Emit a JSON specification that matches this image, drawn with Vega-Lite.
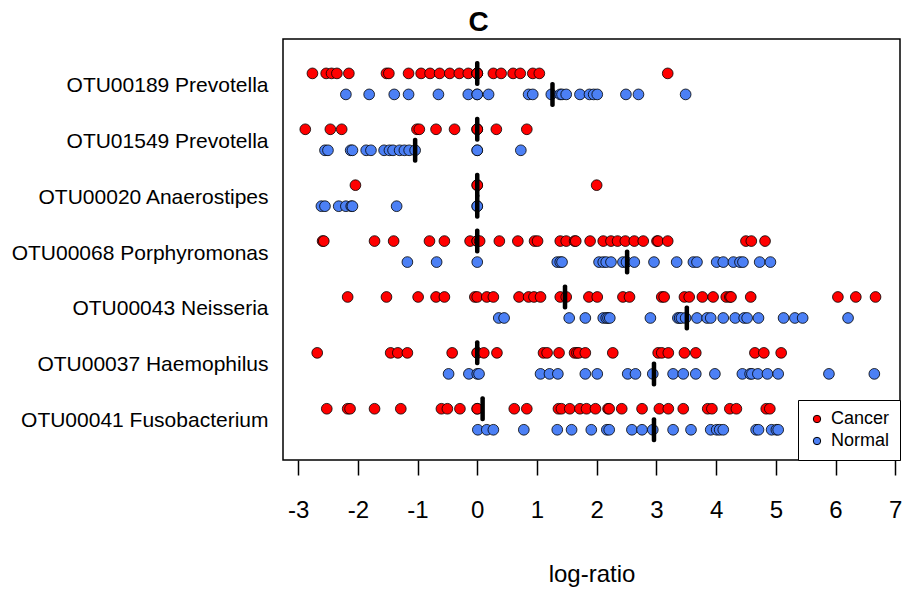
{
"$schema":"https://vega.github.io/schema/vega-lite/v6.json",
"width":617,"height":421,
"autosize":{"type":"none"},
"padding":{"left":283,"top":39,"right":6,"bottom":131},
"background":"white",
"config":{"view":{"stroke":"black","strokeWidth":1.5},"font":"Liberation Sans"},
"title":{"text":"C","fontSize":28,"fontWeight":"bold","font":"Liberation Sans","anchor":"middle","dx":-113,"offset":2,"color":"black"},
"datasets":{
"med":[
{"otu":"OTU00189 Prevotella","group":"Cancer","value":0},{"otu":"OTU00189 Prevotella","group":"Normal","value":1.26},
{"otu":"OTU01549 Prevotella","group":"Cancer","value":0},{"otu":"OTU01549 Prevotella","group":"Normal","value":-1.04},
{"otu":"OTU00020 Anaerostipes","group":"Cancer","value":0},{"otu":"OTU00020 Anaerostipes","group":"Normal","value":0},
{"otu":"OTU00068 Porphyromonas","group":"Cancer","value":0},{"otu":"OTU00068 Porphyromonas","group":"Normal","value":2.51},
{"otu":"OTU00043 Neisseria","group":"Cancer","value":1.47},{"otu":"OTU00043 Neisseria","group":"Normal","value":3.51},
{"otu":"OTU00037 Haemophilus","group":"Cancer","value":0},{"otu":"OTU00037 Haemophilus","group":"Normal","value":2.96},
{"otu":"OTU00041 Fusobacterium","group":"Cancer","value":0.09},{"otu":"OTU00041 Fusobacterium","group":"Normal","value":2.96}
],
"pts":[
{"otu":"OTU00189 Prevotella","group":"Cancer","value":-2.76},{"otu":"OTU00189 Prevotella","group":"Cancer","value":-2.53},{"otu":"OTU00189 Prevotella","group":"Cancer","value":-2.44},{"otu":"OTU00189 Prevotella","group":"Cancer","value":-2.35},{"otu":"OTU00189 Prevotella","group":"Cancer","value":-2.15},{"otu":"OTU00189 Prevotella","group":"Cancer","value":-1.52},{"otu":"OTU00189 Prevotella","group":"Cancer","value":-1.48},{"otu":"OTU00189 Prevotella","group":"Cancer","value":-1.15},{"otu":"OTU00189 Prevotella","group":"Cancer","value":-0.94},{"otu":"OTU00189 Prevotella","group":"Cancer","value":-0.79},{"otu":"OTU00189 Prevotella","group":"Cancer","value":-0.63},{"otu":"OTU00189 Prevotella","group":"Cancer","value":-0.46},{"otu":"OTU00189 Prevotella","group":"Cancer","value":-0.3},{"otu":"OTU00189 Prevotella","group":"Cancer","value":-0.15},{"otu":"OTU00189 Prevotella","group":"Cancer","value":0},{"otu":"OTU00189 Prevotella","group":"Cancer","value":0},{"otu":"OTU00189 Prevotella","group":"Cancer","value":0},{"otu":"OTU00189 Prevotella","group":"Cancer","value":0},{"otu":"OTU00189 Prevotella","group":"Cancer","value":0},{"otu":"OTU00189 Prevotella","group":"Cancer","value":0.27},{"otu":"OTU00189 Prevotella","group":"Cancer","value":0.4},{"otu":"OTU00189 Prevotella","group":"Cancer","value":0.6},{"otu":"OTU00189 Prevotella","group":"Cancer","value":0.72},{"otu":"OTU00189 Prevotella","group":"Cancer","value":0.93},{"otu":"OTU00189 Prevotella","group":"Cancer","value":1.04},{"otu":"OTU00189 Prevotella","group":"Cancer","value":3.19},
{"otu":"OTU00189 Prevotella","group":"Normal","value":-2.2},{"otu":"OTU00189 Prevotella","group":"Normal","value":-1.81},{"otu":"OTU00189 Prevotella","group":"Normal","value":-1.39},{"otu":"OTU00189 Prevotella","group":"Normal","value":-1.15},{"otu":"OTU00189 Prevotella","group":"Normal","value":-0.65},{"otu":"OTU00189 Prevotella","group":"Normal","value":-0.15},{"otu":"OTU00189 Prevotella","group":"Normal","value":0},{"otu":"OTU00189 Prevotella","group":"Normal","value":0},{"otu":"OTU00189 Prevotella","group":"Normal","value":0.19},{"otu":"OTU00189 Prevotella","group":"Normal","value":0.86},{"otu":"OTU00189 Prevotella","group":"Normal","value":0.93},{"otu":"OTU00189 Prevotella","group":"Normal","value":1.24},{"otu":"OTU00189 Prevotella","group":"Normal","value":1.39},{"otu":"OTU00189 Prevotella","group":"Normal","value":1.42},{"otu":"OTU00189 Prevotella","group":"Normal","value":1.49},{"otu":"OTU00189 Prevotella","group":"Normal","value":1.72},{"otu":"OTU00189 Prevotella","group":"Normal","value":1.88},{"otu":"OTU00189 Prevotella","group":"Normal","value":1.95},{"otu":"OTU00189 Prevotella","group":"Normal","value":2.01},{"otu":"OTU00189 Prevotella","group":"Normal","value":2.49},{"otu":"OTU00189 Prevotella","group":"Normal","value":2.7},{"otu":"OTU00189 Prevotella","group":"Normal","value":3.49},
{"otu":"OTU01549 Prevotella","group":"Cancer","value":-2.88},{"otu":"OTU01549 Prevotella","group":"Cancer","value":-2.46},{"otu":"OTU01549 Prevotella","group":"Cancer","value":-2.27},{"otu":"OTU01549 Prevotella","group":"Cancer","value":-1.01},{"otu":"OTU01549 Prevotella","group":"Cancer","value":-0.97},{"otu":"OTU01549 Prevotella","group":"Cancer","value":-0.69},{"otu":"OTU01549 Prevotella","group":"Cancer","value":-0.38},{"otu":"OTU01549 Prevotella","group":"Cancer","value":0},{"otu":"OTU01549 Prevotella","group":"Cancer","value":0},{"otu":"OTU01549 Prevotella","group":"Cancer","value":0},{"otu":"OTU01549 Prevotella","group":"Cancer","value":0.32},{"otu":"OTU01549 Prevotella","group":"Cancer","value":0.83},
{"otu":"OTU01549 Prevotella","group":"Normal","value":-2.55},{"otu":"OTU01549 Prevotella","group":"Normal","value":-2.5},{"otu":"OTU01549 Prevotella","group":"Normal","value":-2.12},{"otu":"OTU01549 Prevotella","group":"Normal","value":-2.09},{"otu":"OTU01549 Prevotella","group":"Normal","value":-1.86},{"otu":"OTU01549 Prevotella","group":"Normal","value":-1.78},{"otu":"OTU01549 Prevotella","group":"Normal","value":-1.56},{"otu":"OTU01549 Prevotella","group":"Normal","value":-1.47},{"otu":"OTU01549 Prevotella","group":"Normal","value":-1.41},{"otu":"OTU01549 Prevotella","group":"Normal","value":-1.3},{"otu":"OTU01549 Prevotella","group":"Normal","value":-1.22},{"otu":"OTU01549 Prevotella","group":"Normal","value":-1.14},{"otu":"OTU01549 Prevotella","group":"Normal","value":-1.04},{"otu":"OTU01549 Prevotella","group":"Normal","value":0},{"otu":"OTU01549 Prevotella","group":"Normal","value":0},{"otu":"OTU01549 Prevotella","group":"Normal","value":0.73},
{"otu":"OTU00020 Anaerostipes","group":"Cancer","value":-2.04},{"otu":"OTU00020 Anaerostipes","group":"Cancer","value":0},{"otu":"OTU00020 Anaerostipes","group":"Cancer","value":0},{"otu":"OTU00020 Anaerostipes","group":"Cancer","value":2.0},
{"otu":"OTU00020 Anaerostipes","group":"Normal","value":-2.61},{"otu":"OTU00020 Anaerostipes","group":"Normal","value":-2.55},{"otu":"OTU00020 Anaerostipes","group":"Normal","value":-2.32},{"otu":"OTU00020 Anaerostipes","group":"Normal","value":-2.2},{"otu":"OTU00020 Anaerostipes","group":"Normal","value":-2.11},{"otu":"OTU00020 Anaerostipes","group":"Normal","value":-2.09},{"otu":"OTU00020 Anaerostipes","group":"Normal","value":-1.35},{"otu":"OTU00020 Anaerostipes","group":"Normal","value":0},{"otu":"OTU00020 Anaerostipes","group":"Normal","value":0},
{"otu":"OTU00068 Porphyromonas","group":"Cancer","value":-2.59},{"otu":"OTU00068 Porphyromonas","group":"Cancer","value":-2.57},{"otu":"OTU00068 Porphyromonas","group":"Cancer","value":-1.72},{"otu":"OTU00068 Porphyromonas","group":"Cancer","value":-1.4},{"otu":"OTU00068 Porphyromonas","group":"Cancer","value":-0.8},{"otu":"OTU00068 Porphyromonas","group":"Cancer","value":-0.55},{"otu":"OTU00068 Porphyromonas","group":"Cancer","value":-0.12},{"otu":"OTU00068 Porphyromonas","group":"Cancer","value":0},{"otu":"OTU00068 Porphyromonas","group":"Cancer","value":0},{"otu":"OTU00068 Porphyromonas","group":"Cancer","value":0.04},{"otu":"OTU00068 Porphyromonas","group":"Cancer","value":0.37},{"otu":"OTU00068 Porphyromonas","group":"Cancer","value":0.68},{"otu":"OTU00068 Porphyromonas","group":"Cancer","value":0.96},{"otu":"OTU00068 Porphyromonas","group":"Cancer","value":1.01},{"otu":"OTU00068 Porphyromonas","group":"Cancer","value":1.39},{"otu":"OTU00068 Porphyromonas","group":"Cancer","value":1.49},{"otu":"OTU00068 Porphyromonas","group":"Cancer","value":1.63},{"otu":"OTU00068 Porphyromonas","group":"Cancer","value":1.65},{"otu":"OTU00068 Porphyromonas","group":"Cancer","value":1.89},{"otu":"OTU00068 Porphyromonas","group":"Cancer","value":2.11},{"otu":"OTU00068 Porphyromonas","group":"Cancer","value":2.24},{"otu":"OTU00068 Porphyromonas","group":"Cancer","value":2.35},{"otu":"OTU00068 Porphyromonas","group":"Cancer","value":2.48},{"otu":"OTU00068 Porphyromonas","group":"Cancer","value":2.63},{"otu":"OTU00068 Porphyromonas","group":"Cancer","value":2.78},{"otu":"OTU00068 Porphyromonas","group":"Cancer","value":3.01},{"otu":"OTU00068 Porphyromonas","group":"Cancer","value":3.03},{"otu":"OTU00068 Porphyromonas","group":"Cancer","value":3.19},{"otu":"OTU00068 Porphyromonas","group":"Cancer","value":4.5},{"otu":"OTU00068 Porphyromonas","group":"Cancer","value":4.59},{"otu":"OTU00068 Porphyromonas","group":"Cancer","value":4.82},
{"otu":"OTU00068 Porphyromonas","group":"Normal","value":-1.17},{"otu":"OTU00068 Porphyromonas","group":"Normal","value":-0.68},{"otu":"OTU00068 Porphyromonas","group":"Normal","value":0},{"otu":"OTU00068 Porphyromonas","group":"Normal","value":1.34},{"otu":"OTU00068 Porphyromonas","group":"Normal","value":1.39},{"otu":"OTU00068 Porphyromonas","group":"Normal","value":1.42},{"otu":"OTU00068 Porphyromonas","group":"Normal","value":2.04},{"otu":"OTU00068 Porphyromonas","group":"Normal","value":2.11},{"otu":"OTU00068 Porphyromonas","group":"Normal","value":2.16},{"otu":"OTU00068 Porphyromonas","group":"Normal","value":2.24},{"otu":"OTU00068 Porphyromonas","group":"Normal","value":2.44},{"otu":"OTU00068 Porphyromonas","group":"Normal","value":2.5},{"otu":"OTU00068 Porphyromonas","group":"Normal","value":2.63},{"otu":"OTU00068 Porphyromonas","group":"Normal","value":2.96},{"otu":"OTU00068 Porphyromonas","group":"Normal","value":3.34},{"otu":"OTU00068 Porphyromonas","group":"Normal","value":3.62},{"otu":"OTU00068 Porphyromonas","group":"Normal","value":3.68},{"otu":"OTU00068 Porphyromonas","group":"Normal","value":4.01},{"otu":"OTU00068 Porphyromonas","group":"Normal","value":4.12},{"otu":"OTU00068 Porphyromonas","group":"Normal","value":4.29},{"otu":"OTU00068 Porphyromonas","group":"Normal","value":4.4},{"otu":"OTU00068 Porphyromonas","group":"Normal","value":4.45},{"otu":"OTU00068 Porphyromonas","group":"Normal","value":4.73},{"otu":"OTU00068 Porphyromonas","group":"Normal","value":4.91},
{"otu":"OTU00043 Neisseria","group":"Cancer","value":-2.17},{"otu":"OTU00043 Neisseria","group":"Cancer","value":-1.52},{"otu":"OTU00043 Neisseria","group":"Cancer","value":-0.99},{"otu":"OTU00043 Neisseria","group":"Cancer","value":-0.69},{"otu":"OTU00043 Neisseria","group":"Cancer","value":-0.55},{"otu":"OTU00043 Neisseria","group":"Cancer","value":-0.04},{"otu":"OTU00043 Neisseria","group":"Cancer","value":0},{"otu":"OTU00043 Neisseria","group":"Cancer","value":0.16},{"otu":"OTU00043 Neisseria","group":"Cancer","value":0.27},{"otu":"OTU00043 Neisseria","group":"Cancer","value":0.7},{"otu":"OTU00043 Neisseria","group":"Cancer","value":0.86},{"otu":"OTU00043 Neisseria","group":"Cancer","value":0.95},{"otu":"OTU00043 Neisseria","group":"Cancer","value":1.06},{"otu":"OTU00043 Neisseria","group":"Cancer","value":1.39},{"otu":"OTU00043 Neisseria","group":"Cancer","value":1.49},{"otu":"OTU00043 Neisseria","group":"Cancer","value":1.87},{"otu":"OTU00043 Neisseria","group":"Cancer","value":2.01},{"otu":"OTU00043 Neisseria","group":"Cancer","value":2.44},{"otu":"OTU00043 Neisseria","group":"Cancer","value":2.55},{"otu":"OTU00043 Neisseria","group":"Cancer","value":3.09},{"otu":"OTU00043 Neisseria","group":"Cancer","value":3.13},{"otu":"OTU00043 Neisseria","group":"Cancer","value":3.47},{"otu":"OTU00043 Neisseria","group":"Cancer","value":3.55},{"otu":"OTU00043 Neisseria","group":"Cancer","value":3.77},{"otu":"OTU00043 Neisseria","group":"Cancer","value":3.95},{"otu":"OTU00043 Neisseria","group":"Cancer","value":4.17},{"otu":"OTU00043 Neisseria","group":"Cancer","value":4.23},{"otu":"OTU00043 Neisseria","group":"Cancer","value":4.25},{"otu":"OTU00043 Neisseria","group":"Cancer","value":4.58},{"otu":"OTU00043 Neisseria","group":"Cancer","value":6.04},{"otu":"OTU00043 Neisseria","group":"Cancer","value":6.34},{"otu":"OTU00043 Neisseria","group":"Cancer","value":6.67},
{"otu":"OTU00043 Neisseria","group":"Normal","value":0.36},{"otu":"OTU00043 Neisseria","group":"Normal","value":0.45},{"otu":"OTU00043 Neisseria","group":"Normal","value":1.54},{"otu":"OTU00043 Neisseria","group":"Normal","value":1.81},{"otu":"OTU00043 Neisseria","group":"Normal","value":2.11},{"otu":"OTU00043 Neisseria","group":"Normal","value":2.16},{"otu":"OTU00043 Neisseria","group":"Normal","value":2.19},{"otu":"OTU00043 Neisseria","group":"Normal","value":2.22},{"otu":"OTU00043 Neisseria","group":"Normal","value":2.9},{"otu":"OTU00043 Neisseria","group":"Normal","value":3.36},{"otu":"OTU00043 Neisseria","group":"Normal","value":3.39},{"otu":"OTU00043 Neisseria","group":"Normal","value":3.42},{"otu":"OTU00043 Neisseria","group":"Normal","value":3.49},{"otu":"OTU00043 Neisseria","group":"Normal","value":3.68},{"otu":"OTU00043 Neisseria","group":"Normal","value":3.85},{"otu":"OTU00043 Neisseria","group":"Normal","value":3.91},{"otu":"OTU00043 Neisseria","group":"Normal","value":4.12},{"otu":"OTU00043 Neisseria","group":"Normal","value":4.32},{"otu":"OTU00043 Neisseria","group":"Normal","value":4.47},{"otu":"OTU00043 Neisseria","group":"Normal","value":4.52},{"otu":"OTU00043 Neisseria","group":"Normal","value":4.71},{"otu":"OTU00043 Neisseria","group":"Normal","value":5.13},{"otu":"OTU00043 Neisseria","group":"Normal","value":5.32},{"otu":"OTU00043 Neisseria","group":"Normal","value":5.45},{"otu":"OTU00043 Neisseria","group":"Normal","value":6.21},
{"otu":"OTU00037 Haemophilus","group":"Cancer","value":-2.68},{"otu":"OTU00037 Haemophilus","group":"Cancer","value":-1.45},{"otu":"OTU00037 Haemophilus","group":"Cancer","value":-1.33},{"otu":"OTU00037 Haemophilus","group":"Cancer","value":-1.17},{"otu":"OTU00037 Haemophilus","group":"Cancer","value":-0.42},{"otu":"OTU00037 Haemophilus","group":"Cancer","value":0},{"otu":"OTU00037 Haemophilus","group":"Cancer","value":0},{"otu":"OTU00037 Haemophilus","group":"Cancer","value":0.11},{"otu":"OTU00037 Haemophilus","group":"Cancer","value":0.33},{"otu":"OTU00037 Haemophilus","group":"Cancer","value":1.11},{"otu":"OTU00037 Haemophilus","group":"Cancer","value":1.17},{"otu":"OTU00037 Haemophilus","group":"Cancer","value":1.37},{"otu":"OTU00037 Haemophilus","group":"Cancer","value":1.63},{"otu":"OTU00037 Haemophilus","group":"Cancer","value":1.67},{"otu":"OTU00037 Haemophilus","group":"Cancer","value":1.7},{"otu":"OTU00037 Haemophilus","group":"Cancer","value":1.81},{"otu":"OTU00037 Haemophilus","group":"Cancer","value":2.27},{"otu":"OTU00037 Haemophilus","group":"Cancer","value":3.03},{"otu":"OTU00037 Haemophilus","group":"Cancer","value":3.09},{"otu":"OTU00037 Haemophilus","group":"Cancer","value":3.2},{"otu":"OTU00037 Haemophilus","group":"Cancer","value":3.47},{"otu":"OTU00037 Haemophilus","group":"Cancer","value":3.66},{"otu":"OTU00037 Haemophilus","group":"Cancer","value":4.65},{"otu":"OTU00037 Haemophilus","group":"Cancer","value":4.8},{"otu":"OTU00037 Haemophilus","group":"Cancer","value":5.09},
{"otu":"OTU00037 Haemophilus","group":"Normal","value":-0.48},{"otu":"OTU00037 Haemophilus","group":"Normal","value":-0.14},{"otu":"OTU00037 Haemophilus","group":"Normal","value":0},{"otu":"OTU00037 Haemophilus","group":"Normal","value":0.03},{"otu":"OTU00037 Haemophilus","group":"Normal","value":1.06},{"otu":"OTU00037 Haemophilus","group":"Normal","value":1.21},{"otu":"OTU00037 Haemophilus","group":"Normal","value":1.35},{"otu":"OTU00037 Haemophilus","group":"Normal","value":1.81},{"otu":"OTU00037 Haemophilus","group":"Normal","value":2.01},{"otu":"OTU00037 Haemophilus","group":"Normal","value":2.52},{"otu":"OTU00037 Haemophilus","group":"Normal","value":2.65},{"otu":"OTU00037 Haemophilus","group":"Normal","value":2.94},{"otu":"OTU00037 Haemophilus","group":"Normal","value":3.28},{"otu":"OTU00037 Haemophilus","group":"Normal","value":3.45},{"otu":"OTU00037 Haemophilus","group":"Normal","value":3.66},{"otu":"OTU00037 Haemophilus","group":"Normal","value":3.98},{"otu":"OTU00037 Haemophilus","group":"Normal","value":4.44},{"otu":"OTU00037 Haemophilus","group":"Normal","value":4.57},{"otu":"OTU00037 Haemophilus","group":"Normal","value":4.6},{"otu":"OTU00037 Haemophilus","group":"Normal","value":4.7},{"otu":"OTU00037 Haemophilus","group":"Normal","value":4.86},{"otu":"OTU00037 Haemophilus","group":"Normal","value":5.04},{"otu":"OTU00037 Haemophilus","group":"Normal","value":5.89},{"otu":"OTU00037 Haemophilus","group":"Normal","value":6.65},
{"otu":"OTU00041 Fusobacterium","group":"Cancer","value":-2.52},{"otu":"OTU00041 Fusobacterium","group":"Cancer","value":-2.17},{"otu":"OTU00041 Fusobacterium","group":"Cancer","value":-2.13},{"otu":"OTU00041 Fusobacterium","group":"Cancer","value":-1.72},{"otu":"OTU00041 Fusobacterium","group":"Cancer","value":-1.28},{"otu":"OTU00041 Fusobacterium","group":"Cancer","value":-0.6},{"otu":"OTU00041 Fusobacterium","group":"Cancer","value":-0.5},{"otu":"OTU00041 Fusobacterium","group":"Cancer","value":-0.29},{"otu":"OTU00041 Fusobacterium","group":"Cancer","value":0},{"otu":"OTU00041 Fusobacterium","group":"Cancer","value":0},{"otu":"OTU00041 Fusobacterium","group":"Cancer","value":0.62},{"otu":"OTU00041 Fusobacterium","group":"Cancer","value":0.83},{"otu":"OTU00041 Fusobacterium","group":"Cancer","value":1.36},{"otu":"OTU00041 Fusobacterium","group":"Cancer","value":1.41},{"otu":"OTU00041 Fusobacterium","group":"Cancer","value":1.55},{"otu":"OTU00041 Fusobacterium","group":"Cancer","value":1.72},{"otu":"OTU00041 Fusobacterium","group":"Cancer","value":1.83},{"otu":"OTU00041 Fusobacterium","group":"Cancer","value":1.98},{"otu":"OTU00041 Fusobacterium","group":"Cancer","value":2.19},{"otu":"OTU00041 Fusobacterium","group":"Cancer","value":2.21},{"otu":"OTU00041 Fusobacterium","group":"Cancer","value":2.42},{"otu":"OTU00041 Fusobacterium","group":"Cancer","value":2.76},{"otu":"OTU00041 Fusobacterium","group":"Cancer","value":3.05},{"otu":"OTU00041 Fusobacterium","group":"Cancer","value":3.2},{"otu":"OTU00041 Fusobacterium","group":"Cancer","value":3.45},{"otu":"OTU00041 Fusobacterium","group":"Cancer","value":3.86},{"otu":"OTU00041 Fusobacterium","group":"Cancer","value":3.93},{"otu":"OTU00041 Fusobacterium","group":"Cancer","value":4.23},{"otu":"OTU00041 Fusobacterium","group":"Cancer","value":4.34},{"otu":"OTU00041 Fusobacterium","group":"Cancer","value":4.84},{"otu":"OTU00041 Fusobacterium","group":"Cancer","value":4.9},
{"otu":"OTU00041 Fusobacterium","group":"Normal","value":0.01},{"otu":"OTU00041 Fusobacterium","group":"Normal","value":0.16},{"otu":"OTU00041 Fusobacterium","group":"Normal","value":0.27},{"otu":"OTU00041 Fusobacterium","group":"Normal","value":0.78},{"otu":"OTU00041 Fusobacterium","group":"Normal","value":1.34},{"otu":"OTU00041 Fusobacterium","group":"Normal","value":1.58},{"otu":"OTU00041 Fusobacterium","group":"Normal","value":1.91},{"otu":"OTU00041 Fusobacterium","group":"Normal","value":2.17},{"otu":"OTU00041 Fusobacterium","group":"Normal","value":2.21},{"otu":"OTU00041 Fusobacterium","group":"Normal","value":2.59},{"otu":"OTU00041 Fusobacterium","group":"Normal","value":2.76},{"otu":"OTU00041 Fusobacterium","group":"Normal","value":2.94},{"otu":"OTU00041 Fusobacterium","group":"Normal","value":3.28},{"otu":"OTU00041 Fusobacterium","group":"Normal","value":3.58},{"otu":"OTU00041 Fusobacterium","group":"Normal","value":3.91},{"otu":"OTU00041 Fusobacterium","group":"Normal","value":4.01},{"otu":"OTU00041 Fusobacterium","group":"Normal","value":4.06},{"otu":"OTU00041 Fusobacterium","group":"Normal","value":4.12},{"otu":"OTU00041 Fusobacterium","group":"Normal","value":4.67},{"otu":"OTU00041 Fusobacterium","group":"Normal","value":4.71},{"otu":"OTU00041 Fusobacterium","group":"Normal","value":4.93},{"otu":"OTU00041 Fusobacterium","group":"Normal","value":5.01},{"otu":"OTU00041 Fusobacterium","group":"Normal","value":5.04}
]},
"encoding":{
"x":{"field":"value","type":"quantitative","scale":{"domain":[-3.253,7.08],"nice":false,"zero":false},
 "axis":{"title":"log-ratio","titleFontSize":24,"titleFontWeight":"normal","titleColor":"black","titlePadding":40,"labelFontSize":24,"labelColor":"black","tickColor":"black","tickSize":15,"tickWidth":1.5,"labelPadding":23,"domain":false,"grid":false,"values":[-3,-2,-1,0,1,2,3,4,5,6,7],"labelExpr":"'' + datum.value","labelFlush":false,"labelOverlap":false}},
"y":{"field":"otu","type":"nominal","scale":{"domain":["OTU00189 Prevotella","OTU01549 Prevotella","OTU00020 Anaerostipes","OTU00068 Porphyromonas","OTU00043 Neisseria","OTU00037 Haemophilus","OTU00041 Fusobacterium"],"paddingInner":0,"paddingOuter":0.266,"align":0.57},
 "axis":{"title":null,"labelFontSize":21,"labelColor":"black","ticks":false,"domain":false,"labelPadding":15,"grid":false,"labelLimit":0,"labelOffset":2}},
"yOffset":{"field":"group","type":"nominal","scale":{"domain":["Cancer","Normal"],"paddingInner":0,"paddingOuter":0.33}}
},
"layer":[
{"data":{"name":"pts"},"mark":{"type":"point","filled":true,"size":115,"stroke":"black","strokeWidth":0.8,"opacity":1},
 "encoding":{"color":{"field":"group","type":"nominal","scale":{"domain":["Cancer","Normal"],"range":["#FF0000","#4C80F5"]},
  "legend":{"title":null,"orient":"bottom-right","offset":0,"strokeColor":"black","fillColor":"white","padding":10,"labelFontSize":18,"labelColor":"black","symbolType":"circle","symbolSize":55,"symbolStrokeColor":"black","symbolStrokeWidth":1,"labelOffset":5,"rowPadding":4}}}},
{"data":{"name":"med"},"mark":{"type":"tick","color":"black","thickness":4.5,"size":25,"orient":"vertical","cornerRadius":2,"opacity":1}}
]
}
